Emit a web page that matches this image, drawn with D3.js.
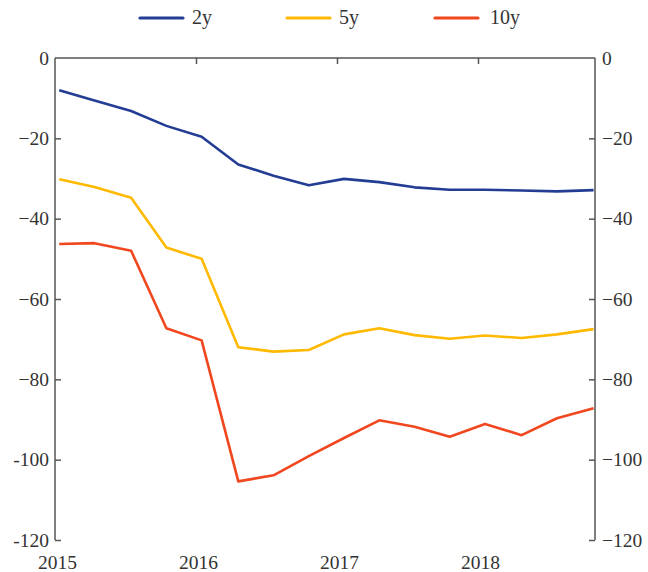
<!DOCTYPE html>
<html><head><meta charset="utf-8">
<script src="https://cdn.jsdelivr.net/npm/d3@7/dist/d3.min.js"></script>
<style>body{margin:0;background:#fff}svg{display:block}text{font-family:"Liberation Serif","DejaVu Serif",serif;fill:#333}</style>
</head><body><svg id="c" width="648" height="572"></svg>
<script>
// Quarterly observation dates (decimal years)
const dates = [2015.03, 2015.28, 2015.54, 2015.79, 2016.04, 2016.30, 2016.55, 2016.80,
               2017.05, 2017.30, 2017.55, 2017.80, 2018.05, 2018.31, 2018.56, 2018.82];
const y2  = [-8.0, -10.6, -13.2, -16.9, -19.6, -26.5, -29.3, -31.7, -30.1, -30.9, -32.2, -32.8, -32.8, -33.0, -33.2, -32.9];
const y5  = [-30.2, -32.1, -34.8, -47.2, -50.0, -72.0, -73.1, -72.7, -68.8, -67.3, -69.0, -69.9, -69.1, -69.7, -68.8, -67.5];
const y10 = [-46.3, -46.1, -48.0, -67.3, -70.3, -105.4, -103.9, -99.1, -94.6, -90.2, -91.8, -94.3, -91.1, -93.9, -89.7, -87.2];
const seriesNames = ["2y", "5y", "10y"];
const seriesColors = ["#233d95", "#ffb900", "#f1471f"];
const yTicks = [0, -20, -40, -60, -80, -100, -120];
const yLabelsLeft = ["0", "\u221220", "\u221240", "\u221260", "\u221280", "-100", "-120"];
const yLabelsRight = ["0", "\u221220", "\u221240", "\u221260", "\u221280", "\u2212100", "\u2212120"];
const xTicks = [2015, 2016, 2017, 2018];

const svg = d3.select("#c");
const L = 55, R = 595, T = 58, B = 540;
const x = d3.scaleLinear().domain([2015, 2018.83]).range([L, R]);
const y = d3.scaleLinear().domain([-120, 0]).range([B, T]);
const axisColor = "#555";
const fs = "19.5px";

// Left axis (ticks inward)
const gl = svg.append("g").attr("transform", `translate(${L},0)`)
  .call(d3.axisLeft(y).tickValues(yTicks).tickSize(-6).tickPadding(12)
    .tickFormat((d, i) => yLabelsLeft[i]));
// Right axis (ticks inward)
const gr = svg.append("g").attr("transform", `translate(${R},0)`)
  .call(d3.axisRight(y).tickValues(yTicks).tickSize(-6).tickPadding(12)
    .tickFormat((d, i) => yLabelsRight[i]));
[gl, gr].forEach(g => {
  g.select(".domain").attr("d", `M0,${T}V${B}`).attr("stroke", axisColor).attr("stroke-width", 1.5);
  g.selectAll(".tick line").attr("stroke", axisColor).attr("stroke-width", 1.5);
  g.selectAll(".tick text").style("font-size", fs).attr("fill", "#333");
  g.selectAll(".tick").filter(d => d === 0).select("line").remove();
});
gr.selectAll(".tick text").attr("x", 7);
gl.selectAll(".tick text").attr("x", -6);

// Top frame with inward ticks
const gt = svg.append("g").attr("transform", `translate(0,${T})`)
  .call(d3.axisTop(x).tickValues(xTicks.slice(1)).tickSize(-6).tickFormat(""));
gt.select(".domain").attr("d", `M${L},0H${R}`).attr("stroke", axisColor).attr("stroke-width", 1.5);
gt.selectAll(".tick line").attr("stroke", axisColor).attr("stroke-width", 1.5);

// Bottom year labels
const gb = svg.append("g").attr("transform", `translate(2,${B})`)
  .call(d3.axisBottom(x).tickValues(xTicks).tickSize(0).tickPadding(15).tickFormat(d3.format("d")));
gb.select(".domain").remove();
gb.selectAll(".tick text").style("font-size", fs).attr("fill", "#333");

// Lines
const data = [y2, y5, y10];
const line = d3.line().x((d, i) => x(dates[i])).y(d => y(d));
data.forEach((s, k) => {
  svg.append("path").datum(s).attr("d", line)
    .attr("fill", "none").attr("stroke", seriesColors[k]).attr("stroke-width", 2.6)
    .attr("stroke-linejoin", "round");
});

// Legend
const legendX = [140, 287, 435];
seriesNames.forEach((n, k) => {
  const g = svg.append("g").attr("transform", `translate(${legendX[k]},18)`);
  g.append("line").attr("x1", 0).attr("x2", 43).attr("y1", 0).attr("y2", 0)
    .attr("stroke", seriesColors[k]).attr("stroke-width", 3.2).attr("stroke-linecap", "round");
  g.append("text").attr("x", k === 2 ? 55 : 52).attr("y", 6).style("font-size", "20px").text(n);
});
</script></body></html>
